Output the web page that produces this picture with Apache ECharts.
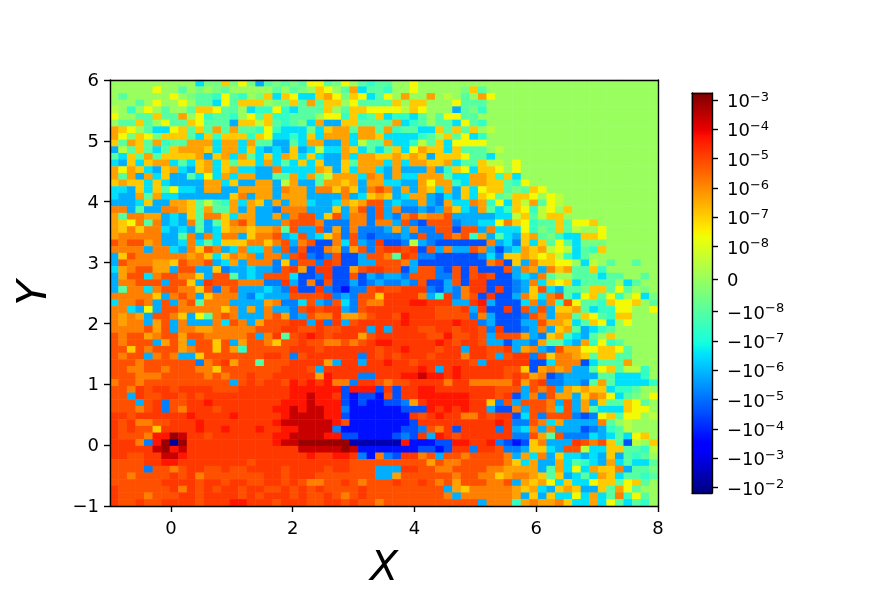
<!DOCTYPE html>
<html>
<head>
<meta charset="utf-8">
<style>html,body{margin:0;padding:0;background:#fff}#c{width:883px;height:589px}</style>
<script src="https://cdn.jsdelivr.net/npm/echarts@6/dist/echarts.min.js"></script>
</head>
<body>
<div id="c"></div>
<script>
// Each character is one cell. Top row is y = 6, left column is x = -1.
const rows = [
"..........cmmAmY" + "msnmnmnYYnmY.ntn" + "n..Y............" + "................",
".....Y..n.m.mn.." + "...n.nm.AY.nOcnn" + "t..Y.....mAn...." + "................",
".n.....Y.mnntYnt" + ".mAcAYccAOYmAYcn" + "Y.O..O.g.n.OY..." + "................",
"...n.Y..Y.nncYnA" + "AA.mmAnOnAA.Ynnn" + "nA.AA...Ynnn...." + "................",
"g.t.Y.n..nAAYnn." + "cttYtcnnnA.nAAYY" + "YYgAY...snmt...." + "................",
"Y..nnAnnO.Ytnnt." + "YnAttnnn.YYtAtnA" + "cttcn.nYYnn....." + "................",
".nnAn.YnnAYnnnsA" + "AgAntnmcOssAAnnn" + "nOctn.nncYnt...." + "................",
"OAY.nccYAnAnOnOn" + "ntYtcccmcAOOnOOn" + "OtnnccAnAnA.g..." + "................",
"OYmAYmAAAncAtAAA" + "tAYcctcAcOOOcOOA" + "cccctn.AnYct...." + "................",
"AnOAnOtnnOOOcOOc" + "OnnssncOOssOcgnn" + "OcctgnAcYYYY...." + "................",
"sgnAncnAOOOAcOOc" + "AcscsAscgccOAcnc" + "nAcYOAAcAnnn.g.." + "................",
"ncAnOnAAAAOsAOcO" + "ncAcOAcAcssOcOOA" + "AOAOAsAAAYnnc..." + "................",
"csAcAOOcncAOcAnA" + "AcOcncAcAssAnOOO" + "cOcOOAAOcnnAgg.Y" + "................",
"OYOAcsAOcsAOcAOc" + "cssoccccOAsAcOOc" + "sOsssOstAYcAAY.Y" + "................",
"OnOsOcAssncYcOcO" + "OssnnOcOngOOOcoO" + "sOccOOOnccOOAtAc" + "................",
"AOAAcAcssssOOcAs" + "sOOsgOssnOOAOsOO" + "ccssOYOOtcOOAAnt" + "Y...............",
"ccsAcAnYccsOOssO" + "OOOsoOOsooAoAsoR" + "osOsOAcOsAcYAAnm" + "nAY.............",
"cssOnOccssssssAo" + "sOOsOOOssssoscAO" + "AscOOsbcsAcAYnmA" + "AY.Yg...........",
"ssscAssOOAngntOc" + "OAsOsOOcsscOAORR" + "scssOsbOccoOtYcA" + "gOnYg...........",
"oosnssooOAnOnnOs" + "OssbooosssAsORbR" + "sobbsbsoAcsOnctA" + "YtgY.A..........",
"OnooOOscsAnooAcO" + "OssOsoRRsARsoobR" + "sboROooRsssssccg" + "AngAA...........",
"OAYonoscsonsnAoR" + "OsssoRRRobbboobo" + "osRbBRRRbssccYoA" + "YtnnAnYYA.......",
"OAoAoocscsnscAOO" + "AOOonRssRbObobbb" + "sOsobbRRBRRsoccc" + "YtmnAng..Y......",
"Oooooossnosocoos" + "AooRscRscAobRbBb" + "bbsbRbbRoRtOsncs" + "AOnmtccAAY......",
"RoRROosscocncAAA" + "ooAoRsoRBBocRsbr" + "BBbgsbBBBBBBoscb" + "AcAnYncmmm......",
"oooosoocsoARosco" + "ccosRbRBBoObORbR" + "rrRrBRsossRosBsc" + "OAOgYgcntA......",
"sARooooooOoAcAoO" + "osoosRrbBbRBBsRR" + "onrRbbBBBBBbcbAA" + "OAYAgtcn........",
"sRoooOOARooRscOs" + "ooobAbRRbrRBBssR" + "RRosBBBBBBBBoRBA" + "soAAYY.cg.n..n..",
"cOoRROOsRRssAbss" + "cssbRrOBrrBBORrr" + "RRBsRRbBRBRBBBRs" + "oOsoAOnnAt......",
"sORRcoRRooAsRRns" + "csRRRcBBbrBBRBsb" + "ssbRRRbbRBRrRBBs" + "cson..nnncnn..n.",
"sooRRRsRRAsrRRRo" + "oobbrsBoBRBBsBbs" + "bbsbRBBsRBrrBBBb" + "socAYAcnnnn.cn..",
"snoocoRRooARboRs" + "sscsbrBBrbBubbRr" + "RRrrrbBsborrBrBb" + "sARcsnnmAAnYn.m.",
"oooooAsoRosAooos" + "bcsssRRRRrbsbRRA" + "rrrrostrboRBrBBs" + "oAcoRncYAnYt.Ycm",
"cooRosRsoRnoooss" + "ssOobbcRsbRcbRoo" + "rrreerrrssresBBB" + "cosotRYnntAYYA.n",
"oocsYsRRoooooAos" + "OsossbRrRrrsbRrr" + "rrrrrrRRRrsrBBrB" + "RsRsAAOncttYY..Y",
"oOoOsRRoAsYnoRos" + "ssoRObsRoorOOoRr" + "rRerrrRRRRbosBBB" + "bRosOOnAYntAA...",
"oOoosORsosssocRo" + "sORRRrrsrbrsRrrr" + "rrerrrrrerrbsBBB" + "ssROOAcnAYc.Y...",
"ooooRORsooOOoooo" + "oRRRrrRRrRRrrrsr" + "srrrRRrrRrrRbrBB" + "bsosAOnsctn.....",
"RoRROoRRORRooooo" + "RsornRrerRrrrORr" + "rrrrrRReRRrRsRRR" + "OsbAOtcsn.A.....",
"RoRRRsOROsRRARsO" + "RRoARRrRRooRoRre" + "errrrrerRrrRssBs" + "sbOnncsOtYtn....",
"RRARoRRROoRRAROt" + "RRRRRrrrRrrrrrrR" + "rrerrrRrrsrrRRrs" + "OosbROOYYAAYn...",
"RoRRsoRossARRRRR" + "RRrrRbRrrrrrrbrR" + "rRrrrRrrrorrRsRr" + "rbRAooOAnAAnn...",
"RRRoRRRRRRboRrOR" + "RnRRRrrrrOsrrsrr" + "errRrrrrrrRsrrrr" + "rBBcoooBcnnnO...",
"RRooRRoRRRooARRR" + "RRRRrrrRsrrrrrrr" + "rrrrersrerrrrrRR" + "ABOoOossnYAnggt.",
"RRRoooRRRRRoRoRR" + "rRRrrrrrOerrrbbr" + "rreedeererrrrrRr" + "ROoBbssssnnccct.",
"oRRoRRRRRRRRRRsR" + "rRrrRerereoobrrR" + "oRRrrrrorrooooor" + "ORrbbssbnOncccct",
"RRorRrrRrrrrRRRr" + "rrrrreeeeeeBeeeB" + "rBrreerrrrrrrRRR" + "sRoRsOAOAActtn..",
"RRsrRRrrRrRrrrrr" + "rrrrreedeerBuBBu" + "RBrreeeeeerrrRrB" + "sobROOsAoOYcnm.Y",
"RRRsRrbRRrrerrrr" + "rrrreeedeeeBuBuu" + "BBbOreeeeerrAbRs" + "RRRosRsOsAnnAYn.",
"RRRoRrbRorrrRrrr" + "rrreededdeebuuuu" + "uuBBBerererrsBBo" + "sRRocRsOncccAYY.",
"rrRrrrrrrerrrrer" + "rrrreddddeeBuuuu" + "uuurRrerroorRrrB" + "cRbRRRbBbYAnYY.g",
"rRrooRRrrrerrrrr" + "rrreddddddeRuuuu" + "uuuBrrrrrrrrrerb" + "bRocOsssson.g...",
"rRrRRArrrrerrerr" + "rerreeddddbuuuuu" + "uuBBbRorBrrrrbrs" + "cososssBbstng...",
"rRRRoeeDdrrRrrrr" + "rrreeddddeeBBuuu" + "uBbBrserRrrrrrrb" + "bROnRbbbcscncYA.",
"rrrobeDNDrrrrrrr" + "rrreddDDDDDDUUUU" + "UUeuuuBBeerrebBu" + "BAosssrRoRAnBg.A",
"rrrrrdDedrrrrrrr" + "rrrrrrdddddDduuu" + "uuuuBBuBrrbrrRbb" + "sAAcsRRgccAAnntg",
"rrRRrrdderrrrrrr" + "rrrrrrrerreerbuo" + "bBrroRsRRoRRRRos" + "OcosAccscsAsntn.",
"RRRRrreerrrrrrrr" + "RrrrrrrrrrrrRRRR" + "RRRRRORooRRRRRoA" + "cOssOcntcsOcnccn",
"RRRRbRRoRrrRRrRR" + "rrrrRrrrrRrrRRRs" + "ssrrRRooRRRRooOO" + "OOsnOcYcOAAosnnm",
"RRoRRRRrRroRRRRR" + "RRrrRrrrRRRRRRRs" + "sORRRRRRoRRooAOo" + "oOAnAscncOAcnntn",
"RRRRRRrrrrRrrRrr" + "RRrrRrRooRRrRoRR" + "RrRRrRoRORRRooRs" + "OAOYcAccYAAnYAn.",
"rRRRRRRrorRrRrrR" + "rrRRrRrRrRRRRrRR" + "RRRRRRRsOAoooooO" + "AOcsAOAssAnOYn..",
"rRRRoRRRrrRrrrrR" + "rRrrrRrRRrRoRrRR" + "RRRRRRRosooooooO" + "sAsAccYcOcnotYn.",
"rRRrRRrrrrRrrree" + "rrrRrrrRRrrRrRRo" + "RRRRRRRRRRRsooot" + "OoOOoAccOcYncnt."
];
// What each character stands for.
const levels = {
  ".": 0, g: 5e-9, Y: 2.5e-8, A: 1.2e-7, O: 4.9e-7, o: 1.45e-6, R: 7e-6, r: 1.6e-5, e: 5e-5, d: 2.3e-4, D: 8.5e-4,
  m: -5e-9, n: -1e-8, t: -4e-8, c: -3e-7, s: -1.5e-6, b: -6e-6, B: -2.6e-5, u: -1.9e-4, U: -4e-3, N: -8e-3
};
const xRange = [-1, 8];
const yRange = [-1, 6];
const xTicks = [0, 2, 4, 6, 8];
const barTicks = [1e-3, 1e-4, 1e-5, 1e-6, 1e-7, 1e-8, 0, -1e-8, -1e-7, -1e-6, -1e-5, -1e-4, -1e-3, -1e-2];
const barLabels = ["{m|10}{s|−3}", "{m|10}{s|−4}", "{m|10}{s|−5}", "{m|10}{s|−6}", "{m|10}{s|−7}", "{m|10}{s|−8}", "{m|0}",
  "{m|−10}{s|−8}", "{m|−10}{s|−7}", "{m|−10}{s|−6}", "{m|−10}{s|−5}", "{m|−10}{s|−4}", "{m|−10}{s|−3}", "{m|−10}{s|−2}"];
const vMin = -0.01538, vMax = 0.0017, linThresh = 1e-8, linDecades = 1.108;

function sym(v) {
  const a = Math.abs(v);
  if (a <= linThresh) return v / linThresh * linDecades;
  return Math.sign(v) * (linDecades + Math.log10(a / linThresh));
}
const fMin = sym(vMin), fMax = sym(vMax);
const norm = v => (sym(v) - fMin) / (fMax - fMin);
function jet(t) {
  const seg = (pts) => {
    for (let i = 1; i < pts.length; i++) if (t <= pts[i][0]) {
      const [a, b] = [pts[i - 1], pts[i]];
      return a[1] + (b[1] - a[1]) * (t - a[0]) / (b[0] - a[0]);
    }
    return pts[pts.length - 1][1];
  };
  const r = seg([[0, 0], [.35, 0], [.66, 1], [.89, 1], [1, .5]]);
  const g = seg([[0, 0], [.125, 0], [.375, 1], [.64, 1], [.91, 0], [1, 0]]);
  const b = seg([[0, .5], [.11, 1], [.34, 1], [.65, 0], [1, 0]]);
  return `rgb(${Math.round(r * 255)},${Math.round(g * 255)},${Math.round(b * 255)})`;
}
const palette = [];
for (let i = 0; i <= 100; i++) palette.push(jet(i / 100));

const nRows = rows.length, nCols = 64;
const cells = [];
rows.forEach((row, r) => {
  for (let c = 0; c < nCols; c++) cells.push([c, nRows - 1 - r, norm(levels[row[c]] ?? 0)]);
});
const barSteps = 400;
const barCells = [];
for (let i = 0; i < barSteps; i++) barCells.push([0, i, (i + .5) / barSteps]);

const range = n => Array.from({ length: n }, (_, i) => String(i));
const FONT = '"DejaVu Sans"';
const lineStyle = { color: '#000', width: 1.4 };
const hiddenCat = (gridIndex, n) => ({ type: 'category', gridIndex, data: range(n), show: false });
const frame = (gridIndex, position, min, max) => ({
  type: 'value', gridIndex, position, min, max, z: 10, splitLine: { show: false },
  axisLine: { show: true, onZero: false, lineStyle }, axisTick: { show: false }, axisLabel: { show: false }
});

const chart = echarts.init(document.getElementById('c'), null, { renderer: 'canvas' });
chart.setOption({
  animation: false,
  backgroundColor: '#fff',
  grid: [
    { left: 110, top: 80, width: 548, height: 426, outerBoundsMode: 'none' },
    { left: 692, top: 93, width: 20, height: 400, outerBoundsMode: 'none' }
  ],
  xAxis: [
    hiddenCat(0, nCols),
    hiddenCat(1, 1),
    {
      ...frame(0, 'bottom', xRange[0], xRange[1]),
      name: 'X', nameLocation: 'middle', nameGap: 43,
      nameTextStyle: { fontFamily: FONT, fontStyle: 'italic', fontSize: 41, color: '#000' },
      axisTick: { show: true, length: 6, customValues: xTicks, lineStyle },
      axisLabel: {
        show: true, customValues: xTicks, margin: 14,
        formatter: v => '{m|' + v + '}',
        rich: { m: { fontFamily: FONT, fontSize: 18, color: '#000' } }
      }
    },
    frame(0, 'top', xRange[0], xRange[1]),
    frame(1, 'top', 0, 1),
    frame(1, 'bottom', 0, 1)
  ],
  yAxis: [
    hiddenCat(0, nRows),
    hiddenCat(1, barSteps),
    {
      ...frame(0, 'left', yRange[0], yRange[1]),
      interval: 1,
      name: 'Y', nameLocation: 'middle', nameGap: 54, nameRotate: 90,
      nameTextStyle: { fontFamily: FONT, fontStyle: 'italic', fontSize: 41, color: '#000' },
      axisTick: { show: true, length: 6, lineStyle },
      axisLabel: {
        show: true, margin: 11,
        formatter: v => '{m|' + String(v).replace('-', '−') + '}',
        rich: { m: { fontFamily: FONT, fontSize: 18, color: '#000', padding: [3, 0, 0, 0] } }
      }
    },
    frame(0, 'right', yRange[0], yRange[1]),
    frame(1, 'left', 0, 1),
    {
      ...frame(1, 'right', 0, 1),
      axisTick: { show: true, length: 6, customValues: barTicks.map(norm), lineStyle },
      axisLabel: {
        show: true, margin: 15, customValues: barTicks.map(norm), hideOverlap: false, showMinLabel: true, showMaxLabel: true,
        padding: [5, 0, 0, 0],
        formatter: v => barLabels[barTicks.findIndex(t => Math.abs(norm(t) - v) < 1e-6)] ?? '',
        rich: {
          m: { fontFamily: FONT, fontSize: 18, color: '#000' },
          s: { fontFamily: FONT, fontSize: 13, color: '#000', padding: [0, 0, 10, 0] }
        }
      }
    }
  ],
  visualMap: { show: false, seriesIndex: [0, 1], dimension: 2, min: 0, max: 1, inRange: { color: palette } },
  series: [
    { type: 'heatmap', xAxisIndex: 0, yAxisIndex: 0, data: cells, progressive: 0, emphasis: { disabled: true } },
    { type: 'heatmap', xAxisIndex: 1, yAxisIndex: 1, data: barCells, progressive: 0, emphasis: { disabled: true } }
  ]
});
</script>
</body>
</html>
